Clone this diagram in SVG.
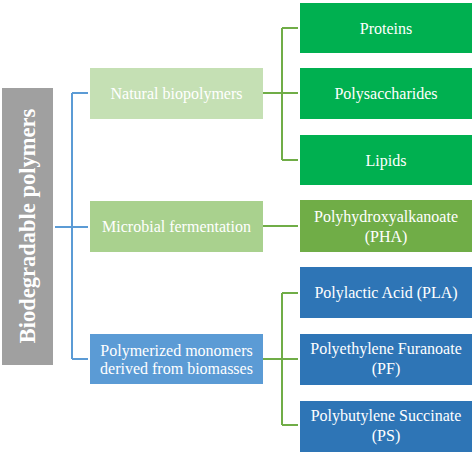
<svg xmlns="http://www.w3.org/2000/svg" width="474" height="453" viewBox="0 0 474 453">
<style>
text{font-family:"Liberation Serif","Times New Roman",serif;fill:#fff;text-anchor:middle;font-size:16px}
.title{font-size:22.5px;font-weight:bold}
.bl{stroke:#5b9bd5;stroke-width:2;fill:none}
.gl{stroke:#70ad47;stroke-width:2;fill:none}
</style>
<rect width="474" height="453" fill="#fff"/>
<g id="connectors">
<path class="bl" d="M55 227H72M72 93V359M72 93H88M72 227H88M72 359H88"/>
<path class="gl" d="M263 93H282M282 28V160M282 28H298M282 93H298M282 160H298"/>
<path class="gl" d="M263 226H298"/>
<path class="gl" d="M263 359H282M282 293V425M282 293H298M282 359H298M282 425H298"/>
</g>
<g id="root"><rect x="2" y="88" width="51" height="277" fill="#a0a0a0"/><text class="title" transform="translate(35 226) rotate(-90)">Biodegradable polymers</text></g>
<g id="natural"><rect x="90" y="68" width="173" height="51" fill="#c5e0b4"/><text x="176.5" y="99">Natural biopolymers</text></g>
<g id="microbial"><rect x="90" y="201" width="173" height="51" fill="#a9d18e"/><text x="176.5" y="232">Microbial fermentation</text></g>
<g id="polymerized"><rect x="90" y="334" width="173" height="50" fill="#5b9bd5"/><text x="176.5" y="356">Polymerized monomers</text><text x="176.5" y="374">derived from biomasses</text></g>
<g id="proteins"><rect x="300" y="3" width="172" height="50" fill="#00b050"/><text x="386" y="33.5">Proteins</text></g>
<g id="polysaccharides"><rect x="300" y="68" width="172" height="51" fill="#00b050"/><text x="386" y="99">Polysaccharides</text></g>
<g id="lipids"><rect x="300" y="135" width="172" height="50" fill="#00b050"/><text x="386" y="165.5">Lipids</text></g>
<g id="pha"><rect x="300" y="200" width="172" height="52" fill="#70ad47"/><text x="386" y="222">Polyhydroxyalkanoate</text><text x="386" y="242">(PHA)</text></g>
<g id="pla"><rect x="300" y="267" width="172" height="51" fill="#2e75b6"/><text x="386" y="298">Polylactic Acid (PLA)</text></g>
<g id="pf"><rect x="300" y="334" width="172" height="51" fill="#2e75b6"/><text x="386" y="354">Polyethylene Furanoate</text><text x="386" y="374">(PF)</text></g>
<g id="ps"><rect x="300" y="401" width="172" height="51" fill="#2e75b6"/><text x="386" y="421">Polybutylene Succinate</text><text x="386" y="441">(PS)</text></g>
</svg>
